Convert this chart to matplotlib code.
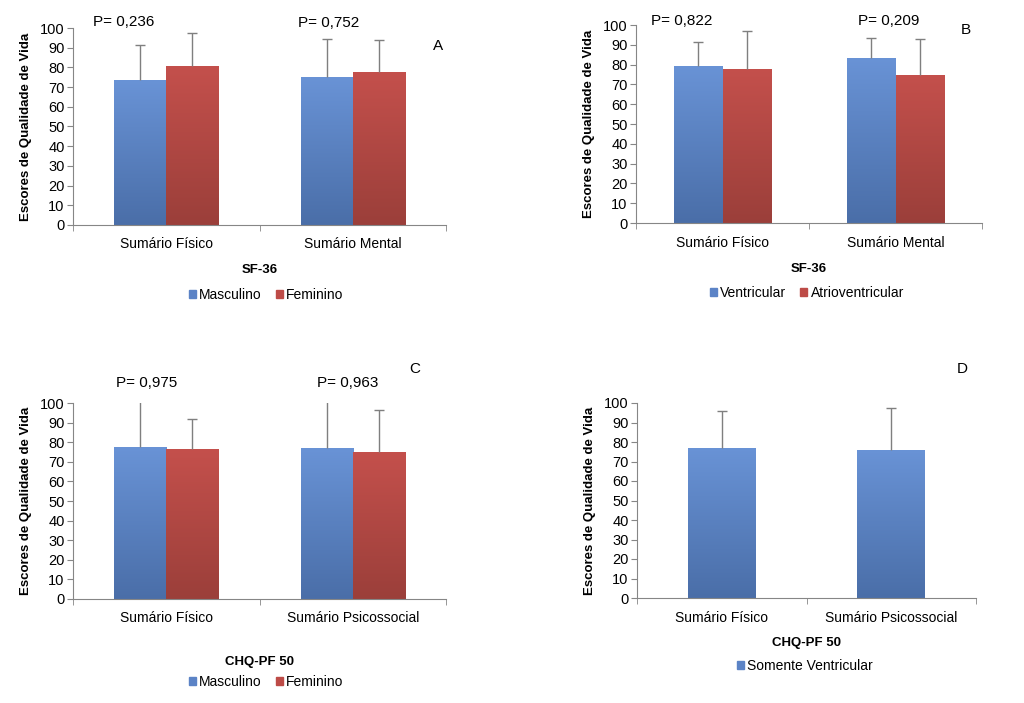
import numpy as np
import matplotlib.pyplot as plt
from matplotlib.colors import LinearSegmentedColormap

plt.rcParams['font.family'] = ['Liberation Sans', 'DejaVu Sans']

W, H = 1024, 703

# panel A - SF-36 by sex
cats_sf = ["Sumário Físico", "Sumário Mental"]
a_masc = [73.5, 75.0]
a_masc_top = [91.5, 94.5]
a_fem = [80.5, 77.5]
a_fem_top = [97.5, 94.0]

# panel B - SF-36 by pacing mode
b_vent = [79.5, 83.5]
b_vent_top = [91.5, 93.5]
b_av = [78.0, 74.5]
b_av_top = [97.0, 93.0]

# panel C - CHQ-PF 50 by sex
cats_chq = ["Sumário Físico", "Sumário Psicossocial"]
c_masc = [77.5, 77.0]
c_masc_top = [102.0, 102.0]
c_fem = [76.5, 75.0]
c_fem_top = [92.0, 96.5]

# panel D - CHQ-PF 50 ventricular only
d_vent = [77.0, 76.0]
d_vent_top = [96.0, 97.5]

blue_cm = LinearSegmentedColormap.from_list("b", ["#4a6ea8", "#6993d6"])
red_cm = LinearSegmentedColormap.from_list("r", ["#9b3f3a", "#c4504c"])
blue_leg = "#5b83c6"
red_leg = "#bd4b47"
grey = "#868686"

fig = plt.figure(figsize=(W / 100, H / 100), dpi=100)


def px_axes(left, top, right, bottom):
    return fig.add_axes([left / W, 1 - bottom / H, (right - left) / W, (bottom - top) / H])


def px_text(x, y, s, **kw):
    fig.text(x / W, 1 - y / H, s, **kw)


def grad_bars(ax, x, vals, width, cmap):
    bars = ax.bar(x, vals, width, color="none", edgecolor="none", zorder=2)
    for b in bars:
        x0, y0 = b.get_x(), b.get_y()
        grad = np.linspace(0, 1, 256).reshape(-1, 1)
        im = ax.imshow(grad, cmap=cmap, origin="lower", aspect="auto",
                       extent=[x0, x0 + b.get_width(), y0, y0 + b.get_height()], zorder=2)
        im.set_clip_path(b)
    return bars


def style_axes(ax, cats, xlabel, label_y):
    ax.set_xlim(-0.5, 1.5)
    ax.set_ylim(0, 100)
    ax.set_yticks(range(0, 101, 10))
    ax.set_xticks([0, 1])
    ax.set_xticklabels(cats, fontsize=10)
    ax.set_xticks([-0.5, 0.5, 1.5], minor=True)
    ax.tick_params(axis="x", which="major", length=0, pad=9)
    ax.tick_params(axis="x", which="minor", length=4, color=grey)
    ax.tick_params(axis="y", length=4, color=grey, labelsize=10.5, pad=2)
    for s in ["top", "right"]:
        ax.spines[s].set_visible(False)
    for s in ["left", "bottom"]:
        ax.spines[s].set_color(grey)
    ax.set_ylabel("Escores de Qualidade de Vida", fontsize=9.5, fontweight="bold", labelpad=6)
    ax.set_xlabel(xlabel, fontsize=9.5, fontweight="bold")
    ax.xaxis.set_label_coords(0.5, label_y)


def errs(ax, x, vals, tops):
    eb = ax.errorbar(x, vals, yerr=[np.zeros(len(vals)), np.array(tops) - np.array(vals)],
                     fmt="none", ecolor="#7f7f7f", elinewidth=1, capsize=3.5, capthick=1,
                     zorder=3)
    # only the upper cap is shown
    eb[1][0].set_visible(False)


def legend(ax, labels, colors, x, y):
    handles = [plt.Rectangle((0, 0), 1, 1, color=c) for c in colors]
    fig.legend(handles, labels, loc="center", bbox_to_anchor=(x / W, 1 - y / H),
               ncol=len(labels), frameon=False, fontsize=10, handlelength=0.5,
               handleheight=0.5, handletextpad=0.25, columnspacing=1.0)


x = np.arange(2)
off, bw = 0.14, 0.28

# A
ax = px_axes(73, 28, 446, 225)
grad_bars(ax, x - off, a_masc, bw, blue_cm)
grad_bars(ax, x + off, a_fem, bw, red_cm)
errs(ax, x - off, a_masc, a_masc_top)
errs(ax, x + off, a_fem, a_fem_top)
style_axes(ax, cats_sf, "SF-36", -0.2)
px_text(124, 22, "P= 0,236", fontsize=11, ha="center", va="center")
px_text(329, 23, "P= 0,752", fontsize=11, ha="center", va="center")
px_text(438, 46, "A", fontsize=11, ha="center", va="center")
legend(ax, ["Masculino", "Feminino"], [blue_leg, red_leg], 266, 295)

# B
ax = px_axes(636, 25, 982, 223)
grad_bars(ax, x - off, b_vent, bw, blue_cm)
grad_bars(ax, x + off, b_av, bw, red_cm)
errs(ax, x - off, b_vent, b_vent_top)
errs(ax, x + off, b_av, b_av_top)
style_axes(ax, cats_sf, "SF-36", -0.2)
px_text(682, 21, "P= 0,822", fontsize=11, ha="center", va="center")
px_text(889, 21, "P= 0,209", fontsize=11, ha="center", va="center")
px_text(966, 30, "B", fontsize=11, ha="center", va="center")
legend(ax, ["Ventricular", "Atrioventricular"], [blue_leg, red_leg], 807, 293)

# C
ax = px_axes(73, 403, 446, 599)
grad_bars(ax, x - off, c_masc, bw, blue_cm)
grad_bars(ax, x + off, c_fem, bw, red_cm)
errs(ax, x - off, c_masc, c_masc_top)
errs(ax, x + off, c_fem, c_fem_top)
style_axes(ax, cats_chq, "CHQ-PF 50", -0.29)
px_text(147, 383, "P= 0,975", fontsize=11, ha="center", va="center")
px_text(348, 383, "P= 0,963", fontsize=11, ha="center", va="center")
px_text(415, 369, "C", fontsize=11, ha="center", va="center")
legend(ax, ["Masculino", "Feminino"], [blue_leg, red_leg], 266, 682)

# D
ax = px_axes(637, 403, 976, 598)
grad_bars(ax, x, d_vent, 0.4, blue_cm)
errs(ax, x, d_vent, d_vent_top)
style_axes(ax, cats_chq, "CHQ-PF 50", -0.2)
px_text(962, 369, "D", fontsize=11, ha="center", va="center")
legend(ax, ["Somente Ventricular"], [blue_leg], 805, 666)

fig.savefig("out.png", dpi=100)
